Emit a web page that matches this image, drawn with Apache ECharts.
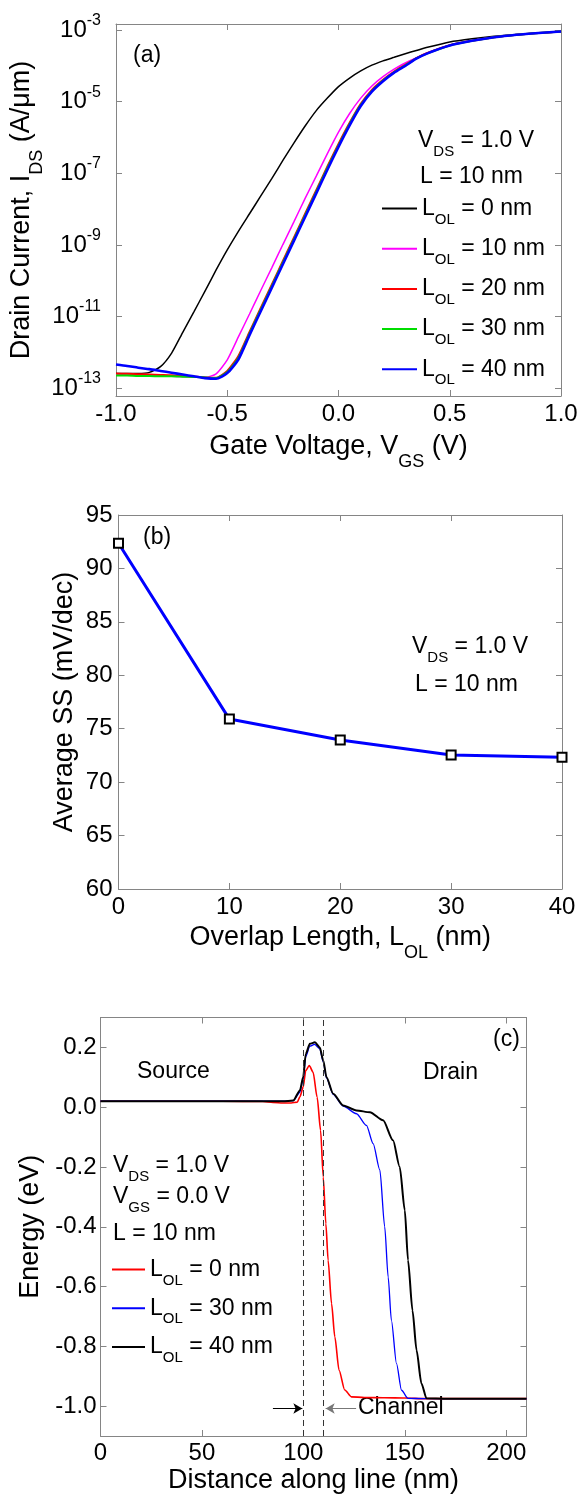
<!DOCTYPE html>
<html><head><meta charset="utf-8">
<script src="https://cdn.jsdelivr.net/npm/echarts@6/dist/echarts.min.js"></script>
<style>html,body{margin:0;padding:0;background:#fff}#c{width:582px;height:1495px}</style>
</head><body><div id="c"></div>
<script>
// ---------- Panel (a): Id-Vg, log10 of drain current (A/um) ----------
const vgs = [-1.00,-0.95,-0.90,-0.85,-0.80,-0.75,-0.70,-0.65,-0.60,-0.55,-0.50,-0.45,-0.40,-0.35,-0.30,-0.25,-0.20,-0.15,-0.10,-0.05,0.00,0.05,0.10,0.15,0.20,0.25,0.30,0.35,0.40,0.5,0.6,0.7,0.8,0.9,1.0];
const log10Ids_L0  = [-12.59,-12.59,-12.59,-12.56,-12.40,-12.02,-11.44,-10.87,-10.29,-9.70,-9.14,-8.62,-8.13,-7.64,-7.15,-6.64,-6.15,-5.68,-5.25,-4.90,-4.58,-4.34,-4.14,-3.98,-3.86,-3.76,-3.66,-3.57,-3.48,-3.33,-3.24,-3.17,-3.12,-3.08,-3.05];
const log10Ids_L10 = [-12.62,-12.63,-12.64,-12.65,-12.66,-12.67,-12.68,-12.69,-12.70,-12.60,-12.21,-11.57,-10.93,-10.28,-9.64,-8.99,-8.35,-7.70,-7.08,-6.45,-5.85,-5.33,-4.90,-4.56,-4.30,-4.09,-3.92,-3.77,-3.63,-3.42,-3.29,-3.20,-3.13,-3.08,-3.05];
const log10Ids_L20 = [-12.59,-12.60,-12.61,-12.62,-12.63,-12.64,-12.66,-12.68,-12.70,-12.71,-12.52,-12.10,-11.43,-10.77,-10.11,-9.45,-8.79,-8.13,-7.47,-6.81,-6.18,-5.59,-5.06,-4.67,-4.39,-4.16,-3.97,-3.78,-3.64,-3.42,-3.30,-3.20,-3.13,-3.08,-3.04];
const log10Ids_L30 = [-12.65,-12.65,-12.66,-12.66,-12.67,-12.67,-12.68,-12.69,-12.70,-12.72,-12.55,-12.15,-11.47,-10.81,-10.15,-9.49,-8.83,-8.17,-7.51,-6.85,-6.22,-5.62,-5.09,-4.70,-4.41,-4.18,-3.99,-3.79,-3.65,-3.43,-3.30,-3.20,-3.13,-3.08,-3.04];
const log10Ids_L40 = [-12.34,-12.38,-12.43,-12.47,-12.52,-12.57,-12.62,-12.67,-12.72,-12.74,-12.58,-12.20,-11.52,-10.86,-10.20,-9.54,-8.88,-8.22,-7.56,-6.90,-6.26,-5.66,-5.12,-4.72,-4.43,-4.19,-4.00,-3.80,-3.65,-3.43,-3.30,-3.20,-3.13,-3.08,-3.04];
const overlapA = [0, 10, 20, 30, 40];
const colorsA = ['#000000', '#ff00ff', '#ff0000', '#00dd00', '#0000ff'];
const yTickExpA = [-13, -11, -9, -7, -5, -3];

// ---------- Panel (b): average SS vs overlap ----------
const overlapLen = [0, 10, 20, 30, 40];
const avgSS = [92.35, 75.9, 73.95, 72.55, 72.33];

// ---------- Panel (c): energy along line ----------
const xC_L0  = [0,20,40,60,80,85,90,94,97,98.3,99.9,101.2,102.9,104.8,106.8,108.5,109.8,111.1,112.2,113.9,115.5,117.6,120.4,123.7,130,140,150,160,170,190,210];
const eC_L0  = [0.02,0.02,0.02,0.02,0.019,0.016,0.014,0.014,0.017,0.035,0.067,0.123,0.139,0.117,0.033,-0.078,-0.234,-0.39,-0.512,-0.657,-0.768,-0.88,-0.946,-0.969,-0.971,-0.972,-0.973,-0.975,-0.975,-0.975,-0.975];
const xC_L30 = [0,20,40,60,80,90,95,98.3,99.9,101.2,103.2,105.5,108.1,109.8,111.4,114.7,119.6,126.2,131.1,134.4,137.7,140.1,141.8,143.4,145.9,148.4,151.6,160,180,210];
const eC_L30 = [0.02,0.02,0.02,0.02,0.02,0.02,0.022,0.05,0.095,0.17,0.204,0.21,0.195,0.152,0.098,0.043,0.004,-0.022,-0.061,-0.122,-0.21,-0.4,-0.568,-0.713,-0.857,-0.947,-0.974,-0.975,-0.975,-0.975];
const xC_L40 = [0,20,40,60,80,90,95,98.3,99.9,101.2,103.2,105.7,108.1,109.8,111.4,114.7,119.6,126.2,132.8,139.3,144.2,147.5,150.0,151.6,153.8,155.8,158.2,160.7,170,190,210];
const eC_L40 = [0.02,0.02,0.02,0.02,0.02,0.02,0.022,0.056,0.1,0.178,0.212,0.217,0.2,0.156,0.1,0.045,0.006,-0.011,-0.017,-0.044,-0.111,-0.2,-0.345,-0.512,-0.68,-0.813,-0.924,-0.974,-0.975,-0.975,-0.975];
const overlapC = [0, 30, 40];
const colorsC = ['#ff0000', '#0000ff', '#000000'];
const channelEdges = [100, 110];
const arrowInX = [85, 99.5];
const arrowOutX = [126, 111];
const arrowY = -1.008;
const yTicksC = [-1.0, -0.8, -0.6, -0.4, -0.2, 0.0, 0.2];
const xTicksC = [0, 50, 100, 150, 200];

// ---------- styling ----------
const F = 'Liberation Sans, Arial, Helvetica, sans-serif';
const AX = '#858585';
const rich = {
  m: {fontFamily: F, fontSize: 23, lineHeight: 30, color: '#000'},
  s: {fontFamily: F, fontSize: 15, lineHeight: 30, color: '#000', padding: [22, 0, 0, 0]},
  n: {fontFamily: F, fontSize: 24, lineHeight: 30, color: '#000'},
  p: {fontFamily: F, fontSize: 16, lineHeight: 30, color: '#000', padding: [0, 0, 19, 0]},
  T: {fontFamily: F, fontSize: 27, lineHeight: 34, color: '#000'},
  Ts: {fontFamily: F, fontSize: 18, lineHeight: 34, color: '#000', padding: [30, 0, 0, 0]}
};
const zip = (xs, ys) => xs.map((x, i) => [x, ys[i]]);
const TICK_FS = 24;

function xAx(grid, pos, min, max, interval, opts) {
  const base = {
    type: 'value', gridIndex: grid, position: pos, min, max, interval,
    nameMoveOverlap: false,
    axisLine: {show: true, onZero: false, lineStyle: {color: AX, width: 1}},
    axisTick: {show: true, inside: true, length: 6, lineStyle: {color: AX}},
    axisLabel: {show: pos === 'bottom', color: '#000', fontFamily: F, fontSize: TICK_FS, margin: 8},
    splitLine: {show: false}
  };
  return Object.assign(base, opts || {});
}

const idsSeries = [log10Ids_L0, log10Ids_L10, log10Ids_L20, log10Ids_L30, log10Ids_L40];
const widthsA = [1.5, 1.5, 2, 2, 2.6];
const seriesA = idsSeries.map((arr, i) => ({
  name: 'a' + overlapA[i], type: 'line', xAxisIndex: 0, yAxisIndex: 0,
  data: zip(vgs, arr), symbol: 'none', showSymbol: false,
  lineStyle: {color: colorsA[i], width: widthsA[i]}, itemStyle: {color: colorsA[i]},
  smooth: 0.2, z: 2 + i
}));

const seriesB = [{
  name: 'b', type: 'line', xAxisIndex: 2, yAxisIndex: 2,
  data: zip(overlapLen, avgSS), symbol: 'rect', symbolSize: 9,
  lineStyle: {color: '#0000ff', width: 3},
  itemStyle: {color: '#ffffff', borderColor: '#000', borderWidth: 2}, z: 3
}];

const dataC = [zip(xC_L0, eC_L0), zip(xC_L30, eC_L30), zip(xC_L40, eC_L40)];
const widthsC = [1.6, 1.3, 2];
const seriesC = dataC.map((d, i) => ({
  name: 'c' + overlapC[i], type: 'line', xAxisIndex: 4, yAxisIndex: 4,
  data: d, symbol: 'none', showSymbol: false,
  lineStyle: {color: colorsC[i], width: widthsC[i]}, itemStyle: {color: colorsC[i]},
  smooth: 0.25, smoothMonotone: 'x', z: 2 + i
}));
seriesC[2].markLine = {
  silent: true, symbol: ['none', 'none'], label: {show: false},
  lineStyle: {type: [6, 4], color: '#333', width: 1},
  data: channelEdges.map(v => ({xAxis: v}))
};
seriesC[1].markLine = {
  silent: true, symbol: ['none', 'arrow'], symbolSize: [8, 9], label: {show: false},
  data: [
    [{coord: [arrowInX[0], arrowY], lineStyle: {color: '#000', width: 1, type: 'solid'}}, {coord: [arrowInX[1], arrowY]}],
    [{coord: [arrowOutX[0], arrowY], lineStyle: {color: '#777', width: 1, type: 'solid'}}, {coord: [arrowOutX[1], arrowY]}]
  ]
};

function t(x, y, str) {
  return {type: 'text', x, y, silent: true,
    style: {text: str, rich, fontFamily: F, fontSize: 23, fill: '#000', align: 'left', verticalAlign: 'middle'}};
}
const lolLabel = v => '{m|L}{s|OL}{m| = ' + v + ' nm}';

const option = {
  animation: false,
  backgroundColor: '#fff',
  grid: [
    {left: 116, right: 21, top: 24, height: 372, outerBoundsMode: 'none', containLabel: false},
    {left: 118.5, right: 20, top: 515, height: 374, outerBoundsMode: 'none', containLabel: false},
    {left: 100.5, right: 55.5, top: 1017.5, height: 418.5, outerBoundsMode: 'none', containLabel: false}
  ],
  xAxis: [
    xAx(0, 'bottom', -1, 1, 0.5, {
      axisLabel: {color: '#000', fontFamily: F, fontSize: TICK_FS, margin: 6, formatter: v => v.toFixed(1)},
      name: '{T|Gate Voltage, V}{Ts|GS}{T| (V)}', nameLocation: 'middle', nameGap: 34,
      nameTextStyle: {rich}
    }),
    xAx(0, 'top', -1, 1, 0.5),
    xAx(1, 'bottom', 0, 40, 10, {
      axisLabel: {color: '#000', fontFamily: F, fontSize: TICK_FS, margin: 6.5},
      name: '{T|Overlap Length, L}{Ts|OL}{T| (nm)}', nameLocation: 'middle', nameGap: 32,
      nameTextStyle: {rich}
    }),
    xAx(1, 'top', 0, 40, 10),
    xAx(2, 'bottom', 0, 210, null, {
      axisTick: {show: true, inside: true, length: 6, lineStyle: {color: AX}, customValues: xTicksC},
      axisLabel: {color: '#000', fontFamily: F, fontSize: TICK_FS, margin: 5, customValues: xTicksC},
      name: '{T|Distance along line (nm)}', nameLocation: 'middle', nameGap: 28,
      nameTextStyle: {rich}
    }),
    xAx(2, 'top', 0, 210, null, {
      axisTick: {show: true, inside: true, length: 6, lineStyle: {color: AX}, customValues: xTicksC}
    })
  ],
  yAxis: [
    xAx(0, 'left', -13.22, -2.83, null, {
      axisTick: {show: true, inside: true, length: 6, lineStyle: {color: AX}, customValues: yTickExpA},
      axisLabel: {show: true, margin: 15, customValues: yTickExpA, rich,
        formatter: v => '{n|10}{p|' + Math.round(v) + '}'},
      name: '{T|Drain Current, I}{Ts|DS}{T| (A/\u03bcm)}', nameLocation: 'middle', nameRotate: 90, nameGap: 77,
      nameTextStyle: {rich}
    }),
    xAx(0, 'right', -13.22, -2.83, null, {
      axisTick: {show: true, inside: true, length: 6, lineStyle: {color: AX}, customValues: yTickExpA},
      axisLabel: {show: false}
    }),
    xAx(1, 'left', 60, 95, 5, {
      axisLabel: {show: true, color: '#000', fontFamily: F, fontSize: TICK_FS, margin: 6},
      name: '{T|Average SS (mV/dec)}', nameLocation: 'middle', nameRotate: 90, nameGap: 36.5,
      nameTextStyle: {rich}
    }),
    xAx(1, 'right', 60, 95, 5, {axisLabel: {show: false}}),
    xAx(2, 'left', -1.1, 0.3, null, {
      axisTick: {show: true, inside: true, length: 6, lineStyle: {color: AX}, customValues: yTicksC},
      axisLabel: {show: true, color: '#000', fontFamily: F, fontSize: TICK_FS, margin: 4, customValues: yTicksC,
        formatter: v => (Math.abs(v) < 1e-9 ? 0 : v).toFixed(1)},
      name: '{T|Energy (eV)}', nameLocation: 'middle', nameRotate: 90, nameGap: 52.5,
      nameTextStyle: {rich}
    }),
    xAx(2, 'right', -1.1, 0.3, null, {
      axisTick: {show: true, inside: true, length: 6, lineStyle: {color: AX}, customValues: yTicksC},
      axisLabel: {show: false}
    })
  ],
  legend: [
    {
      data: overlapA.map(v => 'a' + v), orient: 'vertical', left: 382, top: 190, padding: 0,
      itemGap: 3.2, itemWidth: 35, itemHeight: 2, icon: 'rect', selectedMode: false,
      formatter: n => lolLabel(n.slice(1)), textStyle: {rich, fontFamily: F, fontSize: 23}
    },
    {
      data: overlapC.map(v => 'c' + v), orient: 'vertical', left: 112, top: 1251, padding: 0,
      itemGap: 1.8, itemWidth: 33, itemHeight: 2, icon: 'rect', selectedMode: false,
      formatter: n => lolLabel(n.slice(1)), textStyle: {rich, fontFamily: F, fontSize: 23}
    }
  ],
  graphic: [
    t(133, 56, '{m|(a)}'),
    t(418, 141, '{m|V}{s|DS}{m| = 1.0 V}'),
    t(420, 177, '{m|L = 10 nm}'),
    t(143, 538, '{m|(b)}'),
    t(412, 647, '{m|V}{s|DS}{m| = 1.0 V}'),
    t(415, 685, '{m|L = 10 nm}'),
    t(493, 1040, '{m|(c)}'),
    t(137, 1072, '{m|Source}'),
    t(423, 1073, '{m|Drain}'),
    t(113, 1166, '{m|V}{s|DS}{m| = 1.0 V}'),
    t(113, 1197, '{m|V}{s|GS}{m| = 0.0 V}'),
    t(113, 1234, '{m|L = 10 nm}'),
    t(358, 1408, '{m|Channel}')
  ],
  series: seriesA.concat(seriesB, seriesC)
};

const chart = echarts.init(document.getElementById('c'), null, {renderer: 'canvas'});
chart.setOption(option);
</script>
</body></html>
